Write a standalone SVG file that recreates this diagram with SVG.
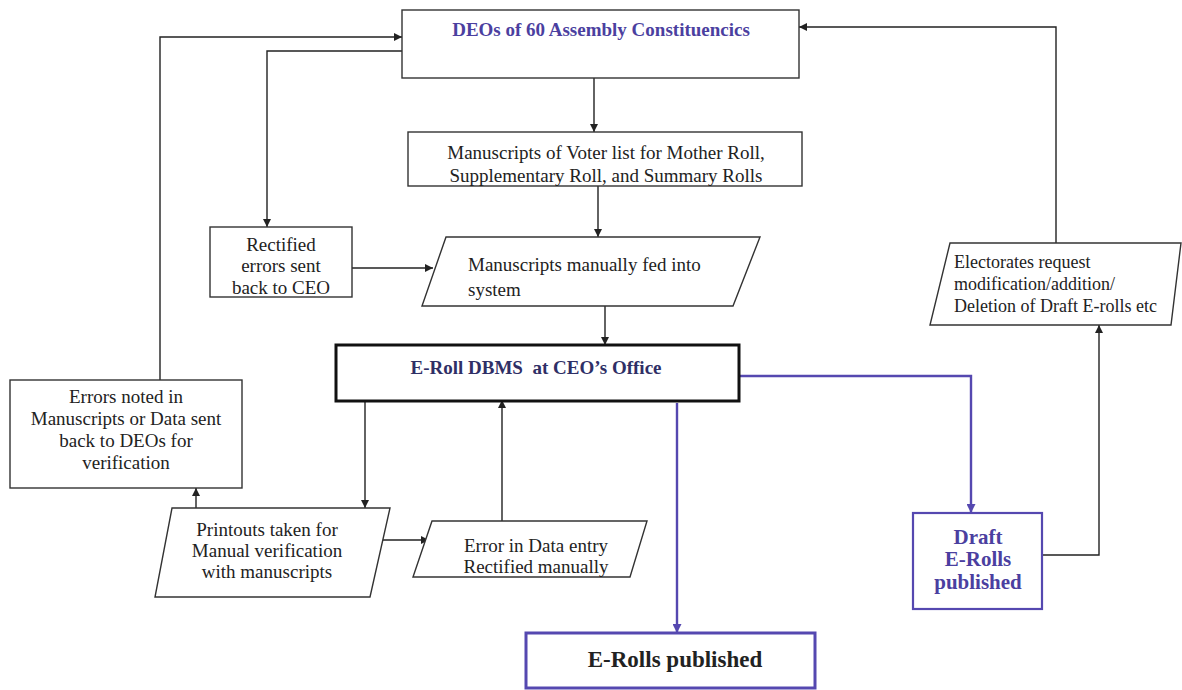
<svg xmlns="http://www.w3.org/2000/svg" width="1182" height="690" viewBox="0 0 1182 690">
<style>
.box{fill:#fff;stroke:#333;stroke-width:1.4}
.t{font-family:"Liberation Serif","Times New Roman",serif;font-size:19px;fill:#222}
.s18{font-size:18px}
.s21{font-size:21px}
.s23{font-size:23px}
.c{text-anchor:middle}
.b{font-weight:bold}
.blue{fill:#4b3fa0}
.navy{fill:#2f2f66}
.pre{white-space:pre}
.ln{fill:none;stroke:#222;stroke-width:1.4}
.bl{fill:none;stroke:#5548b0;stroke-width:2.4}
</style>
<defs>
<marker id="ah" viewBox="0 0 10 10" refX="10" refY="5" markerWidth="8" markerHeight="8" markerUnits="userSpaceOnUse" orient="auto"><path d="M0,0 L10,5 L0,10 z" fill="#222"/></marker>
<marker id="ahb" viewBox="0 0 10 10" refX="10" refY="5" markerWidth="9" markerHeight="9" markerUnits="userSpaceOnUse" orient="auto"><path d="M0,0 L10,5 L0,10 z" fill="#5548b0"/></marker>
</defs>
<rect width="1182" height="690" fill="#fff"/>
<g id="connectors">
<path class="ln" d="M160,380 V37 H402" marker-end="url(#ah)"/>
<path class="ln" d="M402,51 H267 V227" marker-end="url(#ah)"/>
<path class="ln" d="M1056,243 V27 H799" marker-end="url(#ah)"/>
<path class="ln" d="M594,78 V132" marker-end="url(#ah)"/>
<path class="ln" d="M598,186 V237" marker-end="url(#ah)"/>
<path class="ln" d="M352,268 H433" marker-end="url(#ah)"/>
<path class="ln" d="M605,306 V345" marker-end="url(#ah)"/>
<path class="ln" d="M365,402 V508" marker-end="url(#ah)"/>
<path class="ln" d="M502,521 V400" marker-end="url(#ah)"/>
<path class="ln" d="M196,508 V488" marker-end="url(#ah)"/>
<path class="ln" d="M380,540 H429" marker-end="url(#ah)"/>
<path class="ln" d="M1042,555 H1099 V325" marker-end="url(#ah)"/>
<path class="bl" d="M677,403 V633" marker-end="url(#ahb)"/>
<path class="bl" d="M739,376 H971 V513" marker-end="url(#ahb)"/>
</g>
<g id="deos">
<rect class="box" x="402" y="10" width="397" height="68"/>
<text class="t c b blue" x="601" y="36">DEOs of 60 Assembly Constituencics</text>
</g>
<g id="manuscripts">
<rect class="box" x="408" y="132" width="394" height="54"/>
<text class="t c" x="606" y="159">Manuscripts of Voter list for Mother Roll,</text>
<text class="t c" x="606" y="182">Supplementary Roll, and Summary Rolls</text>
</g>
<g id="rectified">
<rect class="box" x="210" y="227" width="142" height="70"/>
<text class="t c" x="281" y="251">Rectified</text>
<text class="t c" x="281" y="272">errors sent</text>
<text class="t c" x="281" y="294">back to CEO</text>
</g>
<g id="fed">
<polygon class="box" points="446,237 760,237 733,306 422,306"/>
<text class="t" x="468" y="271">Manuscripts manually fed into</text>
<text class="t" x="468" y="296">system</text>
</g>
<g id="dbms">
<rect x="336" y="345" width="403" height="56" fill="#fff" stroke="#111" stroke-width="3"/>
<text class="t c b navy pre" x="536" y="374">E-Roll DBMS  at CEO’s Office</text>
</g>
<g id="errors">
<rect class="box" x="10" y="380" width="232" height="108"/>
<text class="t c" x="126" y="403">Errors noted in</text>
<text class="t c" x="126" y="425">Manuscripts or Data sent</text>
<text class="t c" x="126" y="447">back to DEOs for</text>
<text class="t c" x="126" y="469">verification</text>
</g>
<g id="printouts">
<polygon class="box" points="172,508 390,508 370,597 155,597"/>
<text class="t c" x="267" y="536">Printouts taken for</text>
<text class="t c" x="267" y="557">Manual verification</text>
<text class="t c" x="267" y="578">with manuscripts</text>
</g>
<g id="errorentry">
<polygon class="box" points="432,521 647,521 630,577 413,577"/>
<text class="t c" x="536" y="552">Error in Data entry</text>
<text class="t c" x="536" y="573">Rectified manually</text>
</g>
<g id="erolls">
<rect x="526" y="633" width="289" height="55" fill="#fff" stroke="#5548b0" stroke-width="3"/>
<text class="t c b s23" x="675" y="667">E-Rolls published</text>
</g>
<g id="draft">
<rect x="913" y="513" width="129" height="96" fill="#fff" stroke="#5548b0" stroke-width="2.2"/>
<text class="t c b blue s21" x="978" y="544">Draft</text>
<text class="t c b blue s21" x="978" y="566">E-Rolls</text>
<text class="t c b blue s21" x="978" y="589">published</text>
</g>
<g id="electorates">
<polygon class="box" points="950,243 1181,243 1171,325 930,325"/>
<text class="t s18" x="954" y="268">Electorates request</text>
<text class="t s18" x="954" y="290">modification/addition/</text>
<text class="t s18" x="954" y="312">Deletion of Draft E-rolls etc</text>
</g>
</svg>
